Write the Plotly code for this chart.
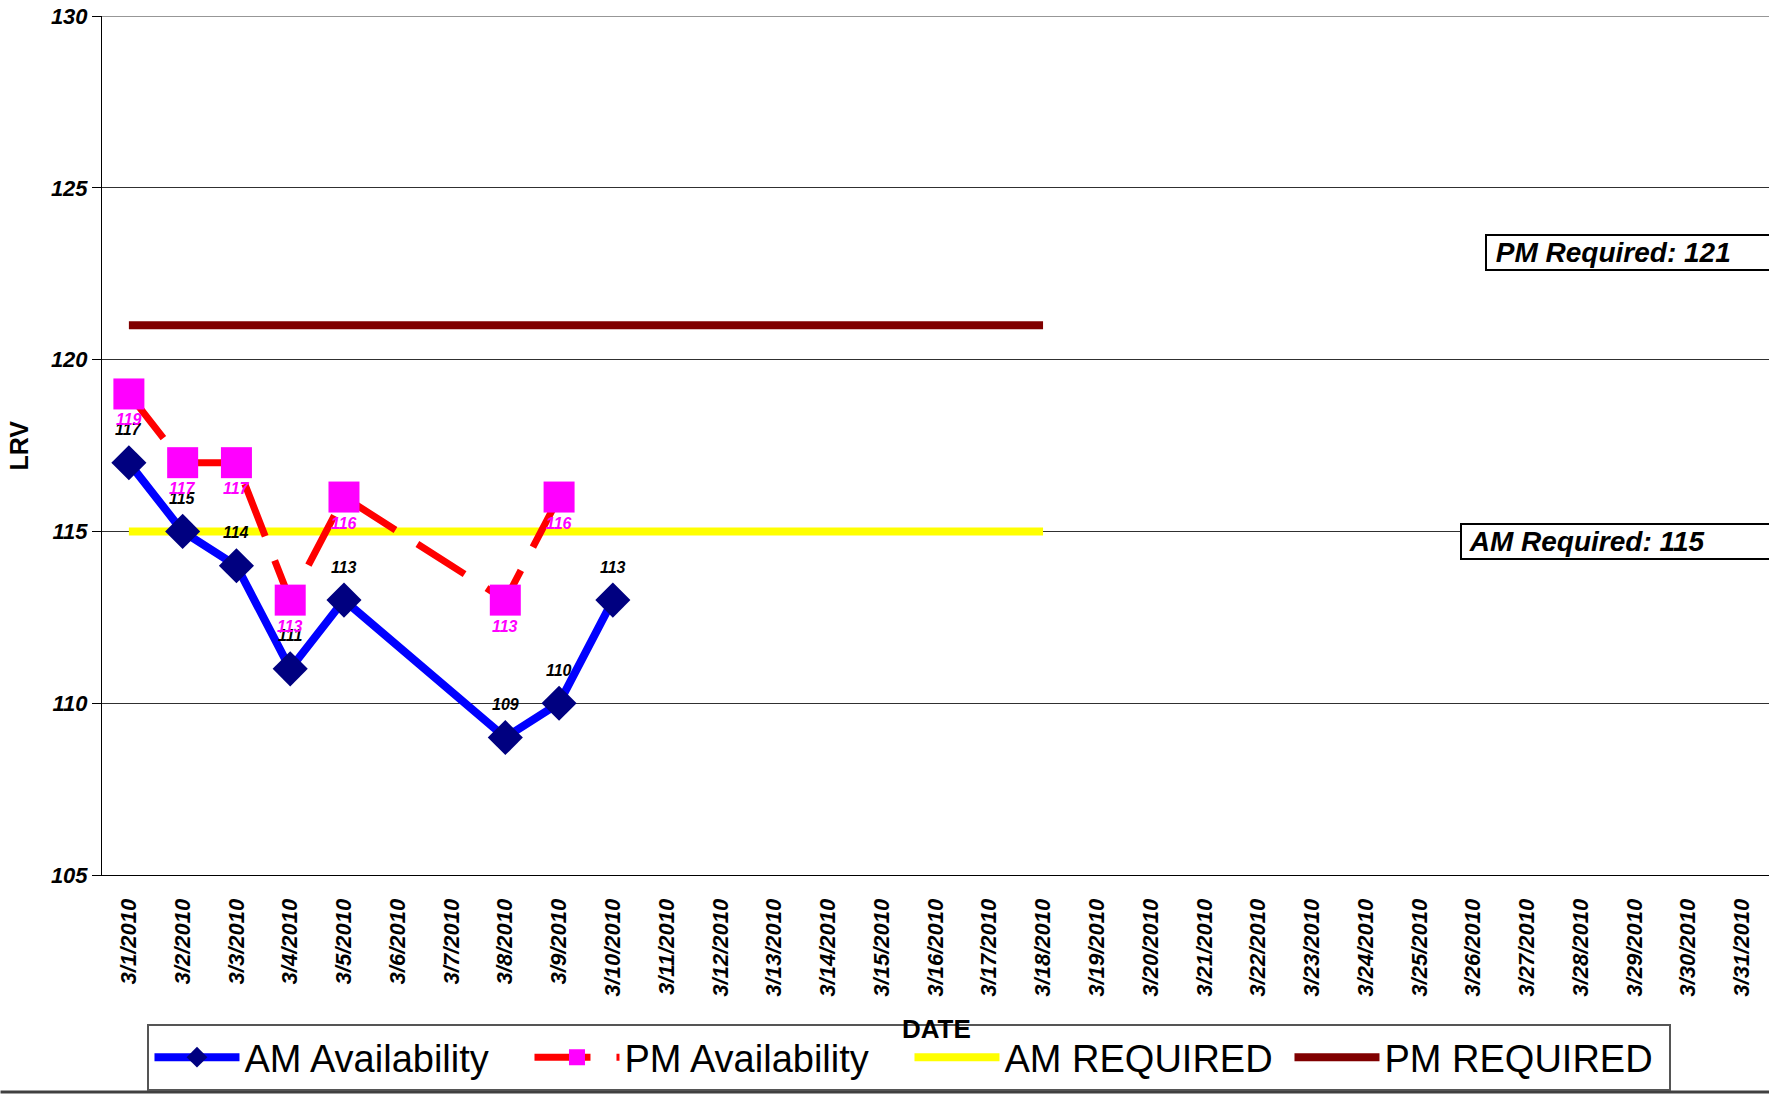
import plotly.graph_objects as go

# ---------------- data ----------------
dates = [f"3/{d}/2010" for d in range(1, 32)]

am_dates = ["3/1/2010", "3/2/2010", "3/3/2010", "3/4/2010", "3/5/2010",
            "3/8/2010", "3/9/2010", "3/10/2010"]
am_values = [117, 115, 114, 111, 113, 109, 110, 113]

pm_dates = ["3/1/2010", "3/2/2010", "3/3/2010", "3/4/2010", "3/5/2010",
            "3/8/2010", "3/9/2010"]
pm_values = [119, 117, 117, 113, 116, 113, 116]

req_dates = dates[:18]
am_required = [115] * 18
pm_required = [121] * 18

y_ticks = [105, 110, 115, 120, 125, 130]

# ---------------- layout constants ----------------
W, H = 1769, 1096
ML, MR, MT = 101.5, 0, 16
MB = H - 875
PW = W - ML - MR
PH = H - MT - MB

def px_x(px):  # page px -> paper
    return (px - ML) / PW

def px_y(py):
    return (H - MB - py) / PH

FONT = "Liberation Sans, Arial, sans-serif"

fig = go.Figure()

fig.add_trace(go.Scatter(
    x=req_dates, y=am_required, name="AM REQUIRED", mode="lines",
    line=dict(color="#FFFF00", width=8), legendrank=3,
))
fig.add_trace(go.Scatter(
    x=req_dates, y=pm_required, name="PM REQUIRED", mode="lines",
    line=dict(color="#800000", width=8), legendrank=4,
))
fig.add_trace(go.Scatter(
    x=pm_dates, y=pm_values, name="PM Availability", mode="lines+markers",
    line=dict(color="#FF0000", width=7, dash="56px,26px"),
    marker=dict(symbol="square", size=31, color="#FF00FF"), legendrank=2,
))
fig.add_trace(go.Scatter(
    x=am_dates, y=am_values, name="AM Availability", mode="lines+markers",
    line=dict(color="#0000FF", width=8),
    marker=dict(symbol="diamond", size=27, color="#000080"), legendrank=1,
))

annotations = []
for d, v in zip(am_dates, am_values):
    annotations.append(dict(
        x=d, y=v, text=str(v), showarrow=False, yshift=33,
        font=dict(family=FONT, size=16, color="black", weight="bold", style="italic"),
    ))
for d, v in zip(pm_dates, pm_values):
    annotations.append(dict(
        x=d, y=v, text=str(v), showarrow=False, yshift=-26,
        font=dict(family=FONT, size=16, color="#FF00FF", weight="bold", style="italic"),
    ))

# boxed labels on right
annotations.append(dict(
    xref="paper", yref="paper", x=px_x(1485), y=px_y(252), xanchor="left", yanchor="middle",
    text=" PM Required: 121", showarrow=False, align="left", width=340,
    bgcolor="white", bordercolor="black", borderwidth=2, borderpad=1,
    font=dict(family=FONT, size=28, color="black", weight="bold", style="italic"),
))
annotations.append(dict(
    xref="paper", yref="paper", x=px_x(1460), y=px_y(541), xanchor="left", yanchor="middle",
    text=" AM Required: 115", showarrow=False, align="left", width=360,
    bgcolor="white", bordercolor="black", borderwidth=2, borderpad=1,
    font=dict(family=FONT, size=28, color="black", weight="bold", style="italic"),
))
# axis titles
annotations.append(dict(
    xref="paper", yref="paper", x=px_x(18), y=px_y(446), text="LRV", textangle=-90,
    xanchor="center", yanchor="middle",
    showarrow=False, font=dict(family=FONT, size=25, color="black", weight="bold"),
))
annotations.append(dict(
    xref="paper", yref="paper", x=px_x(936), y=px_y(1029), text="DATE",
    xanchor="center", yanchor="middle",
    showarrow=False, font=dict(family=FONT, size=26, color="black", weight="bold"),
))

fig.update_layout(
    width=W, height=H,
    margin=dict(l=ML, r=MR, t=MT, b=MB, pad=0, autoexpand=False),
    paper_bgcolor="white", plot_bgcolor="white",
    font=dict(family=FONT, color="black"),
    showlegend=True,
    legend=dict(
        orientation="h", x=px_x(147), xanchor="left", y=px_y(1024), yanchor="top",
        font=dict(family=FONT, size=38, color="black"),
        bgcolor="rgba(0,0,0,0)", bordercolor="#555555", borderwidth=2,
        traceorder="normal", itemwidth=85, entrywidth=280,
    ),
    annotations=annotations,
    shapes=[
        dict(type="line", xref="paper", yref="paper",
             x0=px_x(0), x1=1, y0=px_y(1092), y1=px_y(1092),
             line=dict(color="#404040", width=3)),
        dict(type="line", xref="paper", yref="y", layer="below",
             x0=0, x1=1, y0=y_ticks[-1], y1=y_ticks[-1],
             line=dict(color="#303030", width=1)),
    ],
)

fig.update_xaxes(
    type="category", categoryorder="array", categoryarray=dates,
    range=[-0.5, 30.5], tickvals=dates, ticktext=dates,
    tickangle=-90, ticks="", showgrid=False, automargin=False,
    showline=True, linecolor="black", linewidth=1,
    ticklabelstandoff=14,
    tickfont=dict(family=FONT, size=22, color="black", weight="bold", style="italic"),
)
fig.update_yaxes(
    range=[105, 130], tickvals=y_ticks, ticks="outside", ticklen=9,
    tickcolor="black", showline=True, linecolor="black", linewidth=1,
    showgrid=True, gridcolor="#303030", gridwidth=1, zeroline=False,
    ticklabeloverflow="allow", automargin=False,
    tickfont=dict(family=FONT, size=22, color="black", weight="bold", style="italic"),
)

fig.write_html(
    "out.html",
    config={"displayModeBar": False},
    post_script="document.body.style.margin='0';document.body.style.overflow='hidden';",
)
